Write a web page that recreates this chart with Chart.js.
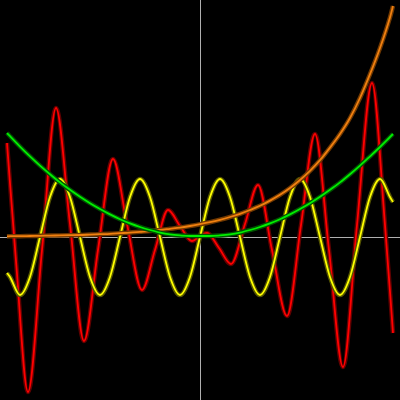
<!DOCTYPE html>
<html>
<head>
<meta charset="utf-8">
<script src="https://cdn.jsdelivr.net/npm/chart.js@4.4.0/dist/chart.umd.min.js"></script>
<style>
html,body{margin:0;padding:0;background:#000;}
#c{display:block;}
</style>
</head>
<body>
<canvas id="c" width="400" height="400"></canvas>
<script>
// shared x positions for yellow, green, orange
const xValues = [-9.65,-9.5,-9,-8.5,-8,-7.5,-7,-6.5,-6,-5.5,-5,-4.5,-4,-3.5,-3,-2.5,-2,-1.5,-1,-0.5,0,0.5,1,1.5,2,2.5,3,3.5,4,4.5,5,5.5,6,6.5,7,7.5,8,8.5,9,9.5,9.65];
const yellowValues = [-1.8,-2.0,-2.9,-2.0,0,2.0,2.9,2.0,0,-2.0,-2.9,-2.0,0,2.0,2.9,2.0,0,-2.0,-2.9,-2.0,0,2.0,2.9,2.0,0,-2.0,-2.9,-2.0,0,2.0,2.9,2.0,0,-2.0,-2.9,-2.0,0,2.0,2.9,2.0,1.75];
const greenValues = [5.2,5.04,4.52,4.03,3.57,3.14,2.73,2.36,2.01,1.69,1.4,1.13,0.89,0.68,0.5,0.35,0.22,0.13,0.08,0.05,0.05,0.05,0.08,0.13,0.22,0.35,0.5,0.68,0.89,1.13,1.4,1.69,2.01,2.36,2.73,3.14,3.57,4.03,4.5,5.0,5.15];
const orangeValues = [0.03,0.04,0.04,0.05,0.06,0.07,0.08,0.09,0.1,0.12,0.14,0.16,0.19,0.22,0.26,0.3,0.35,0.41,0.47,0.55,0.64,0.74,0.86,1.0,1.16,1.35,1.56,1.82,2.11,2.45,2.85,3.31,3.84,4.47,5.15,5.95,6.95,8.14,9.45,10.98,11.55];
// red series has its own x positions (extrema and crossings)
const redX = [-9.65,-9.2,-8.6,-7.9,-7.2,-6.5,-5.8,-5.1,-4.35,-3.65,-2.9,-2.25,-1.6,-1.0,-0.4,0,0.35,0.95,1.55,2.25,2.9,3.6,4.35,5.05,5.75,6.45,7.15,7.85,8.6,9.25,9.65];
const redValues = [4.7,-1.2,-7.75,-0.65,6.45,0.65,-5.2,-0.65,3.9,0.65,-2.65,-0.65,1.35,0.55,-0.2,0.05,0.2,-0.55,-1.35,0.65,2.6,-0.65,-3.95,0.6,5.15,-0.65,-6.5,0.6,7.7,0.6,-4.8];

function pts(xs, ys){ return xs.map((x,i)=>({x:x,y:ys[i]})); }

const series = [
  {name:'red', xs:redX, ys:redValues, bright:'#ff0000', dark:'#600000', order:8},
  {name:'yellow', xs:xValues, ys:yellowValues, bright:'#ffff00', dark:'#555500', order:6},
  {name:'orange', xs:xValues, ys:orangeValues, bright:'#f08010', dark:'#703800', order:4},
  {name:'green', xs:xValues, ys:greenValues, bright:'#00f000', dark:'#005000', order:2}
];

const datasets = [];
series.forEach(s=>{
  datasets.push({label:s.name+'-shadow', data:pts(s.xs,s.ys), borderColor:s.dark, borderWidth:4.5, order:s.order, pointRadius:0, fill:false, cubicInterpolationMode:'monotone', borderCapStyle:'butt'});
  datasets.push({label:s.name, data:pts(s.xs,s.ys), borderColor:s.bright, borderWidth:1.8, order:s.order-1, pointRadius:0, fill:false, cubicInterpolationMode:'monotone', borderCapStyle:'butt'});
});

const axesPlugin = {
  id:'zeroAxes',
  beforeDatasetsDraw(chart){
    const ctx = chart.ctx, xs = chart.scales.x, ys = chart.scales.y;
    const px = Math.round(xs.getPixelForValue(0)) + 0.5;
    const py = Math.round(ys.getPixelForValue(0)) + 0.5;
    ctx.save();
    ctx.strokeStyle = '#b0b0b0';
    ctx.lineWidth = 1;
    ctx.beginPath();
    ctx.moveTo(0, py); ctx.lineTo(chart.width, py);
    ctx.moveTo(px, 0); ctx.lineTo(px, chart.height);
    ctx.stroke();
    ctx.restore();
  }
};

new Chart(document.getElementById('c'), {
  type:'line',
  data:{datasets:datasets},
  options:{
    responsive:false,
    animation:false,
    layout:{padding:0},
    plugins:{legend:{display:false}, tooltip:{enabled:false}},
    scales:{
      x:{type:'linear', min:-10, max:10, display:false},
      y:{type:'linear', min:-8.15, max:11.85, display:false}
    }
  },
  plugins:[axesPlugin]
});
</script>
</body>
</html>
